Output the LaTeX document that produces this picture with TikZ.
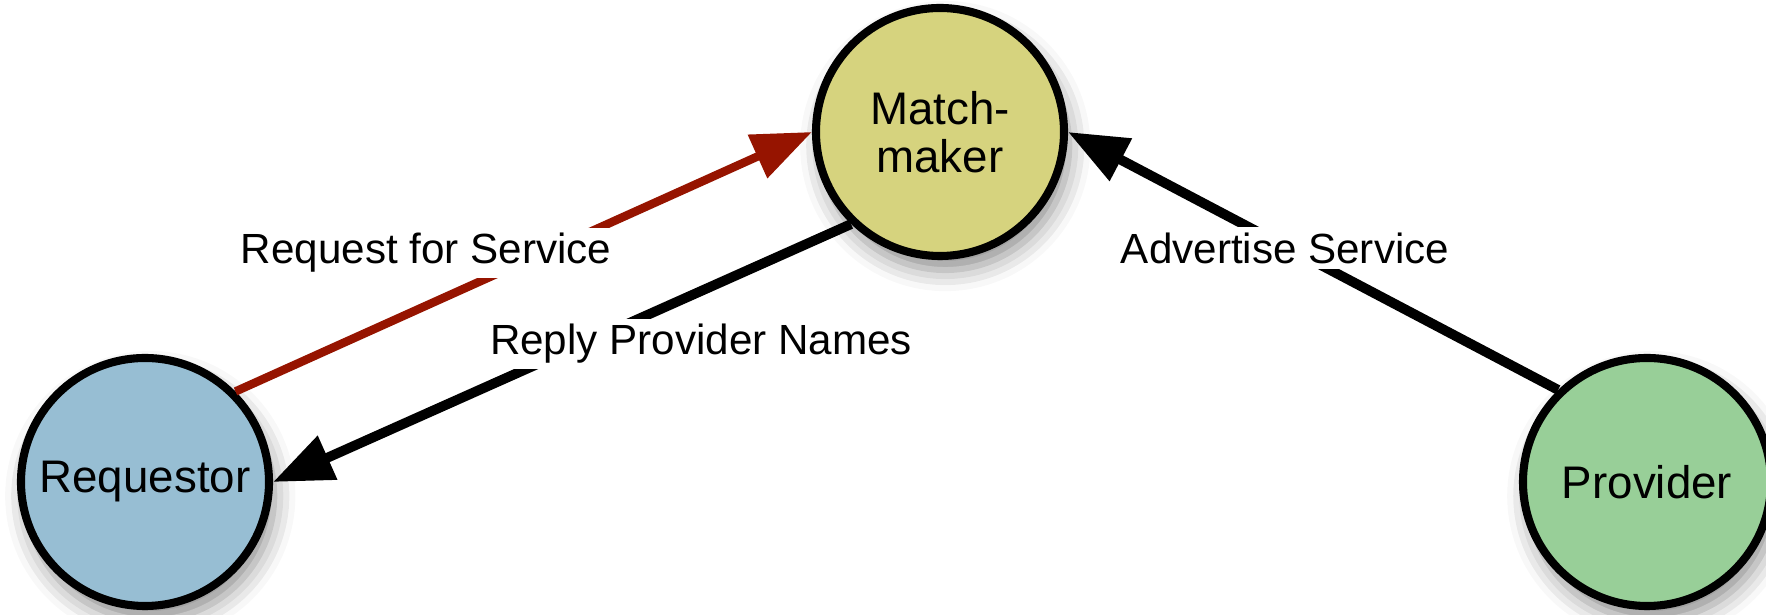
\documentclass[tikz,border=0pt]{standalone}
\usepackage{fontspec}
\setmainfont{Liberation Sans}
\usetikzlibrary{arrows.meta,shadows.blur}

\definecolor{reqblue}{RGB}{151,190,211}
\definecolor{mmyellow}{RGB}{214,211,126}
\definecolor{provgreen}{RGB}{152,207,152}
\definecolor{askred}{RGB}{150,20,0}

\begin{document}
\begin{tikzpicture}[
  agent/.style={circle, draw=black, line width=2.3pt, minimum size=2.48cm,
    align=center, font=\fontsize{13}{13.5}\selectfont,
    blur shadow={shadow blur radius=6pt, shadow xshift=1.5pt, shadow yshift=-4pt, shadow opacity=45}},
  msg/.style={line width=2.8pt, -{Triangle[length=17pt,width=13pt]}},
  lbl/.style={fill=white, inner sep=1.5pt, font=\fontsize{12}{14}\selectfont}]

\useasboundingbox (0,0) rectangle (17.66,6.15);

% the three agents
\node[agent, fill=reqblue] (req) at (1.45,1.33) {Requestor};
\node[agent, fill=mmyellow] (mm) at (9.40,4.83) {Match-\\maker};
\node[agent, fill=provgreen] (prov) at (16.47,1.33) {Provider};

% messages
\draw[msg, askred, line width=2.4pt] (req.45) -- (mm.west);
\draw[msg] (mm.-134) -- (req.east);
\draw[msg] (prov.134) -- (mm.east);

\node[lbl] (asklbl) at (4.26,3.62) {Request for Service};
\node[lbl] (replylbl) at (7.01,2.71) {Reply Provider Names};
\node[lbl] (advlbl) at (12.85,3.67) {Advertise Service};

\end{tikzpicture}
\end{document}
